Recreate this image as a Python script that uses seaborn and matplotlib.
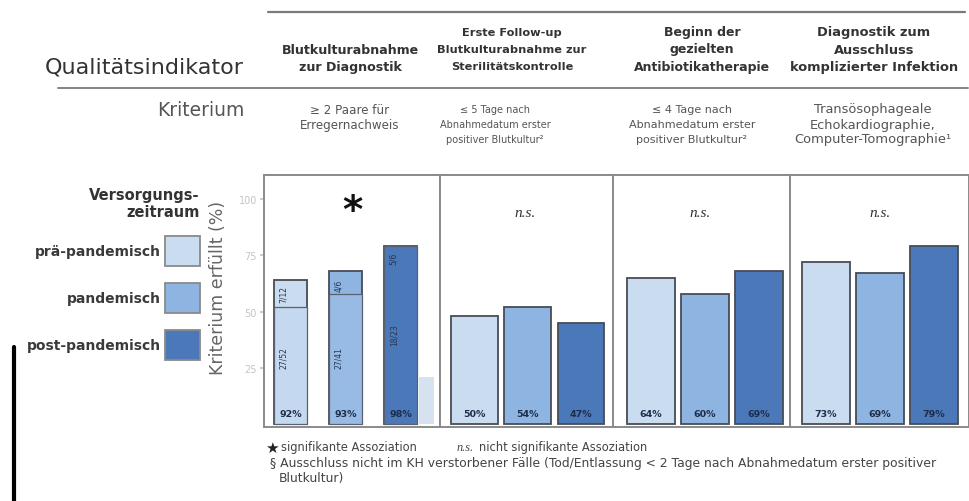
import numpy as np
import pandas as pd
import matplotlib
matplotlib.use('Agg')
import matplotlib.pyplot as plt
from matplotlib.lines import Line2D
import seaborn as sns

# Daten
perioden = ['prä-pandemisch', 'pandemisch', 'post-pandemisch']
farben = ['#cadcf0', '#8eb4e1', '#4a78b8']

indikatoren = ['Blutkulturabnahme\nzur Diagnostik',
               'Erste Follow-up\nBlutkulturabnahme zur\nSterilitätskontrolle',
               'Beginn der\ngezielten\nAntibiotikatherapie',
               'Diagnostik zum\nAusschluss\nkomplizierter Infektion']
kriterien = ['≥ 2 Paare für\nErregernachweis',
             '≤ 5 Tage nach\nAbnahmedatum erster\npositiver Blutkultur²',
             '≤ 4 Tage nach\nAbnahmedatum erster\npositiver Blutkultur²',
             'Transösophageale\nEchokardiographie,\nComputer-Tomographie¹']
werte = [[64, 68, 79], [48, 52, 45], [65, 58, 68], [72, 67, 79]]
teilwerte = [52, 58, 79]          # unterer Abschnitt, Panel 1
geist_wert = 21                   # blasser Balken rechts in Panel 1
balken_text = [['92%', '93%', '98%'], ['50%', '54%', '47%'],
               ['64%', '60%', '69%'], ['73%', '69%', '79%']]
signifikanz = ['*', 'n.s.', 'n.s.', 'n.s.']
y_ticks = [25, 50, 75, 100]

sns.set_theme(style='white')
plt.rcParams['font.family'] = ['DejaVu Sans']

W, H = 970, 502
fig = plt.figure(figsize=(W / 100, H / 100), dpi=100)

def fx(px):
    return px / W

def fy(py):
    return 1 - py / H

# Panel-Geometrie (Pixel)
panels = [(264, 440), (440, 613), (613, 790), (790, 969)]
xlims = [(-0.48, 2.72), (-0.65, 2.61), (-0.70, 2.57), (-0.67, 2.65)]
breiten = [0.6, 0.87, 0.89, 0.89]
sig_x = [1.12, 0.95, 0.9, 1.0]
top_px, bot_px = 176, 428

for i, (x0, x1) in enumerate(panels):
    ax = fig.add_axes([fx(x0), fy(bot_px), fx(x1 - x0), (bot_px - top_px) / H])
    df = pd.DataFrame({'periode': perioden, 'wert': werte[i]})
    sns.barplot(data=df, x='periode', y='wert', hue='periode', order=perioden,
                hue_order=perioden, palette=farben, saturation=1, width=breiten[i],
                edgecolor='#474c55', linewidth=1.3, legend=(i == 0), ax=ax)
    if i == 0:
        handles, labels = ax.get_legend_handles_labels()
        ax.get_legend().remove()
        df2 = pd.DataFrame({'periode': perioden, 'wert': teilwerte})
        sns.barplot(data=df2, x='periode', y='wert', hue='periode', order=perioden,
                    hue_order=perioden, palette=['#c4d9f0', '#98bbe6', '#4a78b8'],
                    saturation=1, width=breiten[i], edgecolor='#5a6070',
                    linewidth=0.9, legend=False, ax=ax)
        ax.bar([2.47], [geist_wert], width=0.27, color='#d6e2ef', edgecolor='none')
        # kleine gedrehte Angaben in den Balken
        for xpos, yv, t in [(-0.12, 30, '27/52'), (-0.12, 58, '7/12'),
                            (0.88, 30, '27/41'), (0.88, 62, '4/6'),
                            (1.88, 40, '18/23'), (1.88, 74, '5/6')]:
            ax.text(xpos, yv, t, rotation=90, ha='center', va='center',
                    fontsize=5.5, color='#2a3550')
    ax.set_xlim(*xlims[i])
    ax.set_ylim(-1.3, 110.7)
    ax.set_xlabel('')
    ax.set_ylabel('')
    ax.set_xticks([])
    for s in ax.spines.values():
        s.set_color('#8a8a8a')
        s.set_linewidth(1.4)
    for j, t in enumerate(balken_text[i]):
        ax.text(j, 4.5, t, ha='center', va='center', fontsize=6.8,
                color='#1f2d4a', fontweight='bold')
    if signifikanz[i] == '*':
        ax.text(sig_x[i], 94.5, '*', ha='center', va='center', fontsize=28,
                fontweight='bold', color='#111111')
    else:
        ax.text(sig_x[i], 94, signifikanz[i], ha='center', va='center', fontsize=11,
                fontstyle='italic', family='Liberation Serif', color='#333333')
    if i == 0:
        ax.set_yticks(y_ticks)
        ax.set_yticklabels([str(v) for v in y_ticks], fontsize=7, color='#c4c4c4')
        ax.tick_params(axis='y', length=3, color='#c4c4c4', pad=2, left=True)
    else:
        ax.set_yticks([])

fig.text(fx(218), fy(288), 'Kriterium erfüllt (%)', rotation=90, ha='center',
         va='center', fontsize=12.5, color='#666666')

# Legende
leg = fig.legend(handles, labels, title='Versorgungs-\nzeitraum', loc='upper right',
                 bbox_to_anchor=(fx(212), fy(175)), markerfirst=False, frameon=False,
                 prop={'weight': 'bold', 'size': 10}, alignment='right',
                 title_fontproperties={'weight': 'bold', 'size': 10.5},
                 handlelength=2.5, handleheight=2.95, labelspacing=1.22,
                 handletextpad=0.25)
for t in leg.get_texts():
    t.set_color('#3a3a3a')
leg.get_title().set_color('#333333')
leg.get_title().set_multialignment('right')
for hnd in leg.legend_handles:
    hnd.set_edgecolor('#8a8a8a')

# Kopf
fig.add_artist(Line2D([fx(268), fx(965)], [fy(13), fy(13)], color='#7a7a7a', lw=1.6))
fig.add_artist(Line2D([fx(58), fx(968)], [fy(89), fy(89)], color='#7a7a7a', lw=1.3))
fig.text(fx(244), fy(68), 'Qualitätsindikator', ha='right', va='center',
         fontsize=16, color='#333333')
fig.text(fx(245), fy(110), 'Kriterium', ha='right', va='center',
         fontsize=13.5, color='#555555')

kopf_x = [350, 512, 702, 874]
kopf_size = [9.1, 8.2, 9.0, 9.4]
for xc, t, fs in zip(kopf_x, indikatoren, kopf_size):
    zeilen = t.split('\n')
    for k, z in enumerate(reversed(zeilen)):
        fig.text(fx(xc), fy(67 - 17 * k), z, ha='center', va='center',
                 fontsize=fs, fontweight='bold', color='#333333')

krit_x = [350, 495, 692, 873]
krit_size = [8.6, 7.0, 8.0, 9.4]
for xc, t, fs in zip(krit_x, kriterien, krit_size):
    for k, z in enumerate(t.split('\n')):
        fig.text(fx(xc), fy(110 + 15 * k), z, ha='center', va='center',
                 fontsize=fs, color='#555555')

# Fuß
fig.text(fx(265), fy(448), '★', ha='left', va='center', fontsize=11,
         color='#222222')
fig.text(fx(281), fy(448), 'signifikante Assoziation', ha='left', va='center',
         fontsize=8.3, color='#444444')
fig.text(fx(457), fy(448), 'n.s.', ha='left', va='center', fontsize=8.8,
         fontstyle='italic', family='Liberation Serif', color='#444444')
fig.text(fx(479), fy(448), 'nicht signifikante Assoziation', ha='left', va='center',
         fontsize=8.3, color='#444444')
fig.text(fx(270), fy(464), '§ Ausschluss nicht im KH verstorbener Fälle (Tod/Entlassung < 2 Tage '
         'nach Abnahmedatum erster positiver', ha='left', va='center', fontsize=8.9,
         color='#444444')
fig.text(fx(279), fy(479), 'Blutkultur)', ha='left', va='center', fontsize=8.9,
         color='#444444')

# schwarzer Randbalken links
fig.add_artist(Line2D([fx(14), fx(14)], [fy(348), fy(502)], color='black', lw=3))

fig.savefig('out.png', dpi=100)
